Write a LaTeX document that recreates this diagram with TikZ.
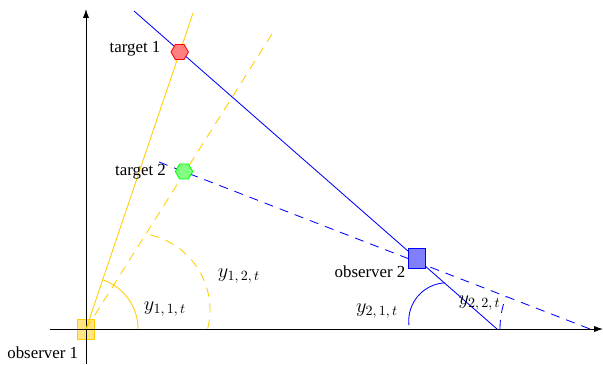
\documentclass[tikz,border=0pt]{standalone}
\usepackage{fontspec}
\setmainfont{Liberation Serif}
\usetikzlibrary{shapes.geometric,arrows.meta}
\definecolor{sightgold}{RGB}{255,204,0}

\begin{document}
\begin{tikzpicture}[x=0.025cm,y=0.025cm,>={Latex[length=2.2mm,width=1.5mm]},line width=0.6pt,
  observer/.style={draw=#1,fill=#1!50,minimum width=0.425cm,minimum height=0.5cm,inner sep=0pt},
  target/.style={regular polygon,regular polygon sides=6,draw=#1,fill=#1!50,minimum size=0.435cm,inner sep=0pt},
  lbl/.style={font=\large},
  anglbl/.style={font=\Large},
  sightdash/.style={dash pattern=on 6.5pt off 5pt}]
  \useasboundingbox (-86,-35) rectangle (517,329);
  % 观测者1
  \node[observer=sightgold] (obs1) at (0,0) {};
  % 坐标轴
  \draw[->] (-36,0) -- (517,0);
  \draw[->] (0,-35) -- (0,320);
  % 视线端点
  \coordinate (y1end) at (107,316);
  \coordinate (y2end) at (186,295);
  \coordinate (b1top) at (48,318);
  \coordinate (b1bot) at (411,0);
  \coordinate (b2top) at (73,167);
  \coordinate (b2bot) at (504,0);
  % 视线
  \draw[sightgold] (obs1.center) -- (y1end);
  \draw[sightgold,sightdash] (obs1.center) -- (y2end);
  \draw[blue] (b1top) -- (b1bot);
  \draw[blue,sightdash] (b2top) -- (b2bot);
  % 角度
  \draw[sightgold] (52,0) arc (0:71.3:52);
  \draw[sightgold,sightdash] (121.7,0.4) arc[start angle=-14,end angle=82,radius=77];
  \draw[blue] (322.9,4) arc[start angle=186,end angle=94,radius=38.3];
  \draw[blue,sightdash] (414,0) arc[start angle=180,end angle=158.8,radius=90];
  % 目标与观测者2
  \node[target=red] (tgt1) at (93.7,277) {};
  \node[target=green] (tgt2) at (98,157.5) {};
  \node[observer=blue] (obs2) at (331,70.7) {};
  % 标注
  \node[lbl] (tgt1lbl) at (49,280.5) {target 1};
  \node[lbl] (tgt2lbl) at (54.5,157) {target 2};
  \node[lbl] (obs1lbl) at (-43.3,-23.5) {observer 1};
  \node[lbl] (obs2lbl) at (284,57) {observer 2};
  \node[anglbl] (y11lbl) at (79,20) {$y_{1,\,1,\,t}$};
  \node[anglbl] (y12lbl) at (153,53) {$y_{1,\,2,\,t}$};
  \node[anglbl] (y21lbl) at (291,18) {$y_{2,\,1,\,t}$};
  \node[anglbl] (y22lbl) at (393.5,26) {$y_{2,\,2,\,t}$};
\end{tikzpicture}
\end{document}
